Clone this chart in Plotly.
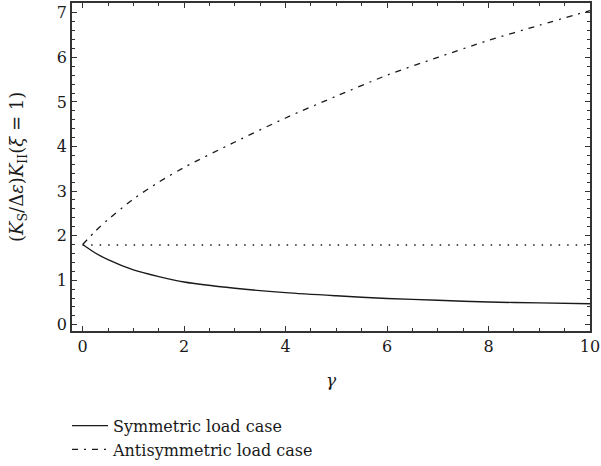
import plotly.graph_objects as go

# data
gamma = [0, 0.25, 0.5, 1, 1.5, 2, 3, 4, 5, 6, 7, 8, 9, 10]
symmetric = [1.80, 1.61, 1.46, 1.23, 1.08, 0.96, 0.82, 0.72, 0.65, 0.59, 0.55, 0.51, 0.49, 0.47]
antisymmetric = [1.80, 2.10, 2.36, 2.82, 3.20, 3.53, 4.10, 4.64, 5.13, 5.60, 6.00, 6.38, 6.72, 7.05]
reference_level = 1.79
x_ticks = [0, 2, 4, 6, 8, 10]
y_ticks = [0, 1, 2, 3, 4, 5, 6, 7]
y_title = "(<i>K</i><sub>S</sub>/Δ<i>ε</i>)<i>K</i><sub>II</sub>(<i>ξ</i> = 1)"

FONT = "DejaVu Serif, Liberation Serif, serif"
INK = "#1a1a1a"

fig = go.Figure()
fig.add_trace(go.Scatter(
    x=gamma, y=symmetric, mode="lines", name="Symmetric load case",
    line=dict(color=INK, width=1.4, shape="spline", smoothing=0.8)))
fig.add_trace(go.Scatter(
    x=gamma, y=antisymmetric, mode="lines", name="Antisymmetric load case",
    line=dict(color=INK, width=1.3, shape="spline", smoothing=0.8, dash="6px,6px,2px,6px")))
fig.add_trace(go.Scatter(
    x=[gamma[0], gamma[-1]], y=[reference_level, reference_level], mode="lines",
    showlegend=False, line=dict(color=INK, width=1.4, dash="1.5px,7px")))

axis_common = dict(
    showgrid=False, zeroline=False, showline=True, linecolor="#333", linewidth=1.5,
    mirror="ticks", ticks="inside", ticklen=5, tickwidth=1, tickcolor="#333",
    tickfont=dict(family=FONT, size=16, color=INK),
)
fig.update_xaxes(
    range=[-0.21, 10], tickvals=x_ticks,
    minor=dict(dtick=0.5, ticks="inside", ticklen=3, tickcolor="#333", tickwidth=1),
    title=dict(text="<i>γ</i>", font=dict(family=FONT, size=17, color=INK), standoff=19),
    **axis_common)
fig.update_yaxes(
    range=[-0.14, 7.22], tickvals=y_ticks,
    minor=dict(dtick=0.2, ticks="inside", ticklen=3, tickcolor="#333", tickwidth=1),
    **axis_common)

fig.add_annotation(
    text=y_title, xref="paper", yref="paper", x=-0.1042, y=0.5,
    xanchor="center", yanchor="middle", textangle=-90, showarrow=False,
    font=dict(family=FONT, size=18, color=INK))

fig.update_layout(
    width=601, height=466,
    margin=dict(l=72, r=11, t=3, b=135, autoexpand=False),
    plot_bgcolor="white", paper_bgcolor="white",
    font=dict(family=FONT, color=INK),
    legend=dict(xref="container", yref="container", x=0.1115, y=0.123,
                xanchor="left", yanchor="top",
                font=dict(family=FONT, size=16, color=INK),
                bgcolor="rgba(0,0,0,0)", tracegroupgap=0, itemwidth=36),
)
fig.write_html("out.html")
